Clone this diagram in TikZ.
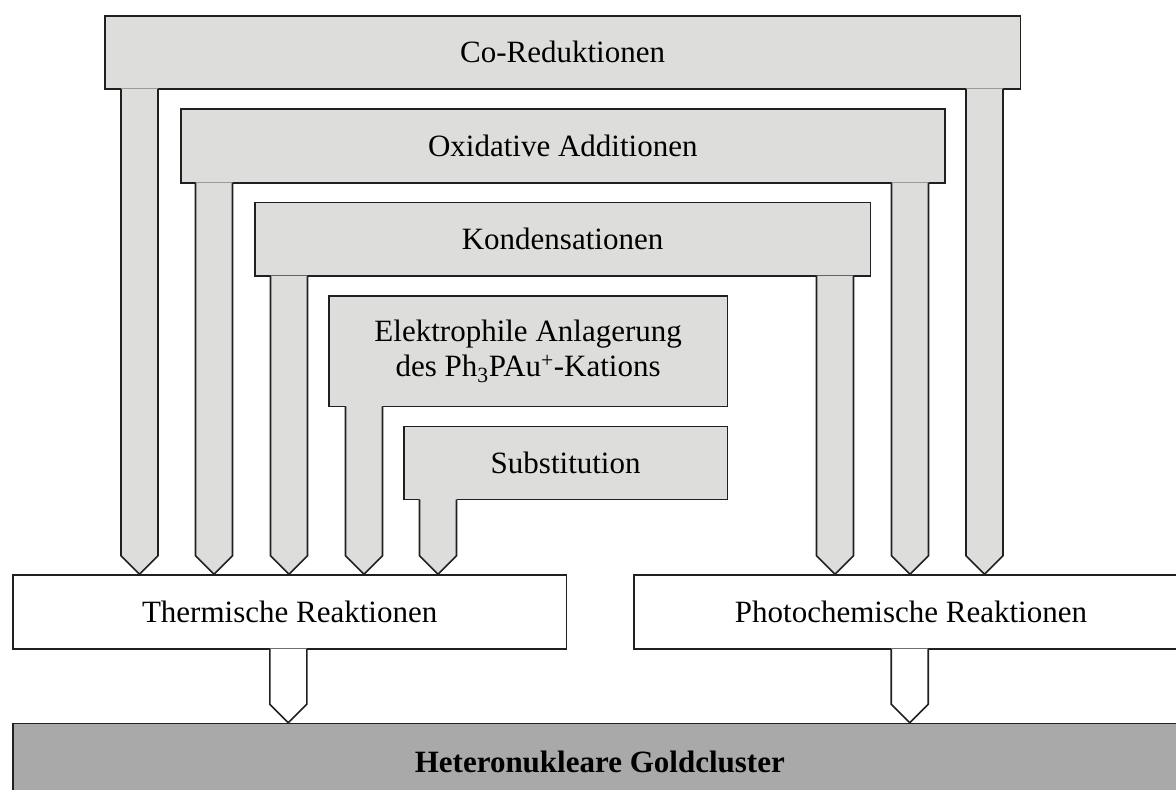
\documentclass[tikz,border=0pt]{standalone}
\usepackage{fontspec}
\setmainfont{Liberation Serif}
\usetikzlibrary{calc}
\definecolor{hellgrau}{RGB}{221,221,220}
\definecolor{dunkelgrau}{RGB}{169,169,169}
\definecolor{linie}{RGB}{35,31,32}
\newcommand\pfeilbein[4]{%
  \pgfmathsetmacro\beinl{#3-18.5}%
  \pgfmathsetmacro\beinr{#3+18.5}%
  \fill[#4] ($(\beinl,0 |- #1.south)+(0,-1.2)$) -- ($(\beinl,0 |- #2.north)+(0,-18.5)$)
    -- (#3,0 |- #2.north) -- ($(\beinr,0 |- #2.north)+(0,-18.5)$)
    -- ($(\beinr,0 |- #1.south)+(0,-1.2)$) -- cycle;
  \draw[rand,line cap=rect] (\beinl,0 |- #1.south) -- ($(\beinl,0 |- #2.north)+(0,-18.5)$)
    -- (#3,0 |- #2.north) -- ($(\beinr,0 |- #2.north)+(0,-18.5)$) -- (\beinr,0 |- #1.south);
}
\begin{document}
\begin{tikzpicture}[
x=1pt,y=-1pt,
rand/.style={draw=linie,line width=1.6pt,line join=miter},
kasten/.style={rand,fill=hellgrau,anchor=north west,inner sep=0pt,align=center,font=\fontsize{31}{35}\selectfont},
reaktion/.style={kasten,fill=white},
ziel/.style={kasten,fill=dunkelgrau,font=\fontsize{31}{35}\selectfont\bfseries}
]
\useasboundingbox (0,0) rectangle (1176,790);
\clip (0,0) rectangle (1176,790);
\node[kasten,minimum width=915.5pt,minimum height=73pt] (co) at (104,15) {Co-Reduktionen};
\node[kasten,minimum width=764pt,minimum height=74pt] (ox) at (180,108) {Oxidative Additionen};
\node[kasten,minimum width=615.5pt,minimum height=73.5pt] (kond) at (254,201.7) {Kondensationen};
\node[kasten,minimum width=398.7pt,minimum height=110.5pt] (elek) at (328,295)
  {Elektrophile Anlagerung\\des Ph\textsubscript{3}PAu\textsuperscript{+}-Kations};
\node[kasten,minimum width=323.7pt,minimum height=73pt] (subst) at (403,425.7) {Substitution};
\node[reaktion,minimum width=553.7pt,minimum height=74pt] (therm) at (12,574.3) {Thermische Reaktionen};
\node[reaktion,minimum width=553.7pt,minimum height=74pt] (photo) at (633.3,574.3) {Photochemische Reaktionen};
\node[ziel,minimum width=1174pt,minimum height=77pt] (gold) at (12,722.7) {Heteronukleare Goldcluster};
\pfeilbein{co}{therm}{139.5}{hellgrau}
\pfeilbein{ox}{therm}{214}{hellgrau}
\pfeilbein{kond}{therm}{289}{hellgrau}
\pfeilbein{elek}{therm}{364}{hellgrau}
\pfeilbein{subst}{therm}{438}{hellgrau}
\pfeilbein{kond}{photo}{835}{hellgrau}
\pfeilbein{ox}{photo}{910}{hellgrau}
\pfeilbein{co}{photo}{984.5}{hellgrau}
\pfeilbein{therm}{gold}{288.3}{white}
\pfeilbein{photo}{gold}{909.7}{white}
\end{tikzpicture}
\end{document}
